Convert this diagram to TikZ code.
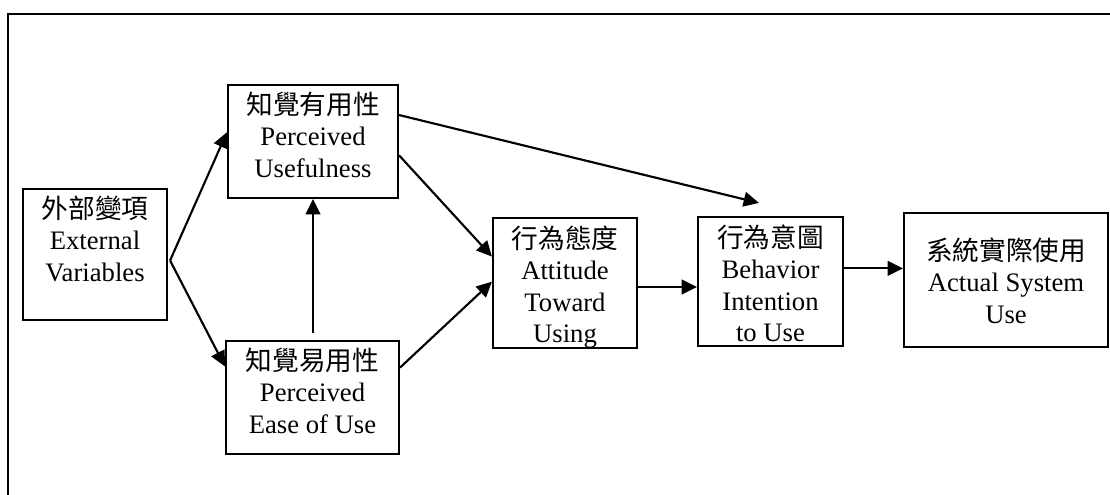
\documentclass[tikz,border=0pt]{standalone}
\usepackage{fontspec}
\setmainfont{Liberation Serif}
\newfontfamily\cjk{Noto Sans CJK TC}
\usetikzlibrary{arrows.meta,fit,calc}
\tikzset{
  box/.style={draw, line width=1.6pt, inner sep=0pt},
  txt/.style={align=center, anchor=north, inner sep=0pt, font=\fontsize{20}{23.6}\selectfont},
  conn/.style={line width=1.6pt, -{Triangle[length=11.5pt,width=11pt]}},
  frame/.style={line width=1.6pt}
}
\newcommand{\firstline}{\rule{0pt}{18pt}}
\begin{document}
\begin{tikzpicture}[x=0.75pt,y=-0.75pt]
\useasboundingbox (0,0) rectangle (1110,495);
\draw[frame] (8,495) -- (8,14) -- (1110,14);
% boxes
\node[box, fit={(23,189) (167,320)}] (ext) {};
\node[box, fit={(228,85) (398,198)}] (pu) {};
\node[box, fit={(226,341) (399,454)}] (peou) {};
\node[box, fit={(493,218) (637,348)}] (atu) {};
\node[box, fit={(698,217) (843,346)}] (bi) {};
\node[box, fit={(904,213) (1108,347)}] (asu) {};
% texts
\node[txt] (extt) at (95,194) {\firstline{\cjk 外部變項}\\External\\Variables\\\mbox{}};
\node[txt] (put) at (313,90) {\firstline{\cjk 知覺有用性}\\Perceived\\Usefulness};
\node[txt] (peout) at (312.5,346) {\firstline{\cjk 知覺易用性}\\Perceived\\Ease of Use};
\node[txt] (atut) at (565,224) {\firstline{\cjk 行為態度}\\Attitude\\Toward\\Using};
\node[txt] (bit) at (770.5,223) {\firstline{\cjk 行為意圖}\\Behavior\\Intention\\to Use};
\node[txt] (asut) at (1006,236) {\firstline{\cjk 系統實際使用}\\Actual System\\Use};
% connectors
\coordinate (es) at ($(ext.north east)!0.545!(ext.south east)+(2,0)$);
\draw[conn] (es) -- ($(pu.north west)!0.42!(pu.south west)$);
\draw[conn] (es) -- ($(peou.north west)!0.23!(peou.south west)$);
\draw[conn] ($(peou.north)+(0.5,-7)$) -- (pu.south);
\draw[conn] ($(pu.north east)!0.27!(pu.south east)$) -- ($(bi.north)+(-11.5,-13)$);
\draw[conn] ($(pu.north east)!0.62!(pu.south east)$) -- ($(atu.north west)!0.3!(atu.south west)$);
\draw[conn] ($(peou.north east)!0.24!(peou.south east)$) -- ($(atu.north west)!0.49!(atu.south west)$);
\coordinate (as) at ($(atu.north east)!0.53!(atu.south east)$);
\draw[conn] (as) -- (as -| bi.west);
\coordinate (bs) at ($(bi.north east)!0.4!(bi.south east)$);
\draw[conn] (bs) -- (bs -| asu.west);
\end{tikzpicture}
\end{document}
